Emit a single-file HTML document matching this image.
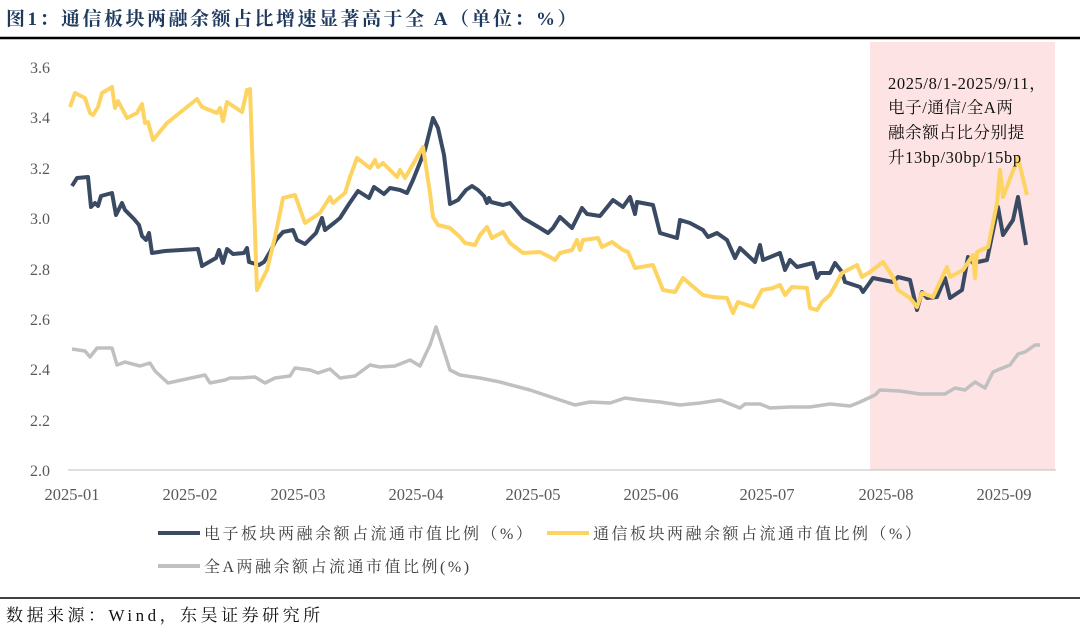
<!DOCTYPE html>
<html><head><meta charset="utf-8"><style>
body{margin:0;background:#fff;}
svg text{font-family:"Liberation Serif","Noto Serif CJK SC",serif;}
</style></head><body>
<svg width="1080" height="630" viewBox="0 0 1080 630" xmlns="http://www.w3.org/2000/svg">
<text x="6" y="25" font-size="19" font-weight="bold" fill="#1f3a5f" letter-spacing="2.5">图1：通信板块两融余额占比增速显著高于全 A（单位：%）</text>
<line x1="0" y1="38" x2="1080" y2="38" stroke="#000" stroke-width="2.5"/>
<rect x="870" y="42" width="185" height="428" fill="#fde3e3"/>
<g font-size="16" fill="#595959" text-anchor="end">
<text x="50" y="73">3.6</text><text x="50" y="123">3.4</text><text x="50" y="174">3.2</text>
<text x="50" y="224">3.0</text><text x="50" y="275">2.8</text><text x="50" y="325">2.6</text>
<text x="50" y="375">2.4</text><text x="50" y="426">2.2</text><text x="50" y="476">2.0</text>
</g>
<line x1="68" y1="470" x2="1056" y2="470" stroke="#bfbfbf" stroke-width="1"/>
<g font-size="16.5" fill="#595959" text-anchor="middle">
<text x="72" y="500">2025-01</text><text x="190" y="500">2025-02</text><text x="298" y="500">2025-03</text>
<text x="416" y="500">2025-04</text><text x="533" y="500">2025-05</text><text x="651" y="500">2025-06</text>
<text x="767" y="500">2025-07</text><text x="886" y="500">2025-08</text><text x="1004" y="500">2025-09</text>
</g>
<polyline fill="none" stroke="#c0c0c0" stroke-width="3.5" stroke-linejoin="round" points="72,349 85,351 90,357 97,348 112,348 117,365 125,362 140,366 150,363 155,371 168,383 205,375 210,383 225,380 230,378 240,378 255,377 265,383 275,378 290,376 295,368 310,370 318,373 330,369 340,378 355,376 370,365 380,367 395,366 410,360 420,366 430,345 436,327 442,345 450,370 460,375 480,378 500,382 530,390 545,395 560,400 575,405 590,402 610,403 625,398 640,400 660,402 680,405 700,403 720,400 740,408 745,404 760,404 770,408 790,407 810,407 830,404 850,406 860,402 875,395 880,390 900,391 920,394 945,394 955,388 965,390 975,382 985,388 993,372 1000,369 1010,365 1018,354 1025,352 1035,345 1040,345"/>
<polyline fill="none" stroke="#3a4a63" stroke-width="4" stroke-linejoin="round" points="72,186 77,178 88,177 91,207 95,203 98,206 101,196 112,193 116,215 122,203 125,210 134,219 139,225 142,236 146,240 149,233 152,253 165,251 198,249 202,266 216,258 219,250 223,263 227,249 233,254 244,253 247,248 249,262 259,265 264,262 270,252 276,240 283,232 293,230 297,240 305,244 316,233 322,218 325,230 334,223 340,218 349,204 358,191 369,198 374,187 384,194 390,188 400,190 407,193 413,180 425,150 433,118 438,128 444,155 450,204 458,200 462,195 466,190 472,186 478,190 484,196 487,203 489,198 491,202 503,205 510,203 523,218 540,228 548,233 553,228 560,217 572,228 582,208 587,214 600,216 613,200 623,207 630,197 635,214 637,202 653,205 660,233 677,238 680,220 690,223 703,230 708,237 717,233 727,240 735,258 740,248 755,262 760,245 763,260 780,253 785,270 790,260 797,267 813,263 817,278 820,273 830,273 835,263 842,272 845,282 860,287 863,292 873,278 893,282 898,277 910,280 917,310 922,292 927,298 937,297 945,278 950,298 962,290 968,257 973,263 987,260 998,207 1003,235 1013,220 1018,197 1026,245"/>
<polyline fill="none" stroke="#fdd462" stroke-width="4" stroke-linejoin="round" points="70,107 75,93 85,98 90,113 93,115 98,107 102,93 112,87 115,108 118,101 127,118 137,113 142,104 145,123 148,122 153,140 167,123 197,99 202,107 217,113 220,108 223,121 227,102 242,112 247,90 250,89 257,290 267,270 275,237 283,198 295,195 305,223 320,213 330,197 333,203 345,193 350,177 357,158 370,168 375,160 378,167 383,163 397,177 400,170 405,178 423,147 430,193 433,217 438,225 450,228 460,237 465,243 475,245 480,235 487,227 492,238 503,232 510,243 523,253 540,252 550,257 555,260 560,253 572,250 577,240 580,250 583,240 598,238 602,247 612,242 623,250 628,252 635,268 653,265 663,290 675,292 683,278 697,290 703,295 713,297 727,298 733,313 738,302 753,307 762,290 773,288 780,285 785,295 792,287 807,288 810,308 817,310 822,302 830,295 842,273 857,265 862,277 870,272 883,262 893,277 898,290 910,298 917,307 922,293 933,297 947,267 950,277 963,270 973,255 975,278 977,252 988,247 997,203 1000,170 1003,197 1018,158 1027,195"/>
<g font-size="16.5" fill="#111" letter-spacing="0.6">
<text x="888" y="89">2025/8/1-2025/9/11，</text>
<text x="888" y="113">电子/通信/全A两</text>
<text x="888" y="138">融余额占比分别提</text>
<text x="888" y="163">升13bp/30bp/15bp</text>
</g>
<g font-size="16" fill="#404040" letter-spacing="2.5">
<line x1="158" y1="533" x2="200" y2="533" stroke="#3a4a63" stroke-width="4"/>
<text x="204" y="539">电子板块两融余额占流通市值比例（%）</text>
<line x1="547" y1="533" x2="589" y2="533" stroke="#fdd462" stroke-width="4"/>
<text x="593" y="539">通信板块两融余额占流通市值比例（%）</text>
<line x1="158" y1="566" x2="200" y2="566" stroke="#c0c0c0" stroke-width="4"/>
<text x="204" y="572">全A两融余额占流通市值比例(%)</text>
</g>
<line x1="0" y1="598" x2="1080" y2="598" stroke="#000" stroke-width="1.5"/>
<text x="6" y="621" font-size="17" fill="#111" letter-spacing="3.5">数据来源：Wind，东吴证券研究所</text>
</svg>
</body></html>
